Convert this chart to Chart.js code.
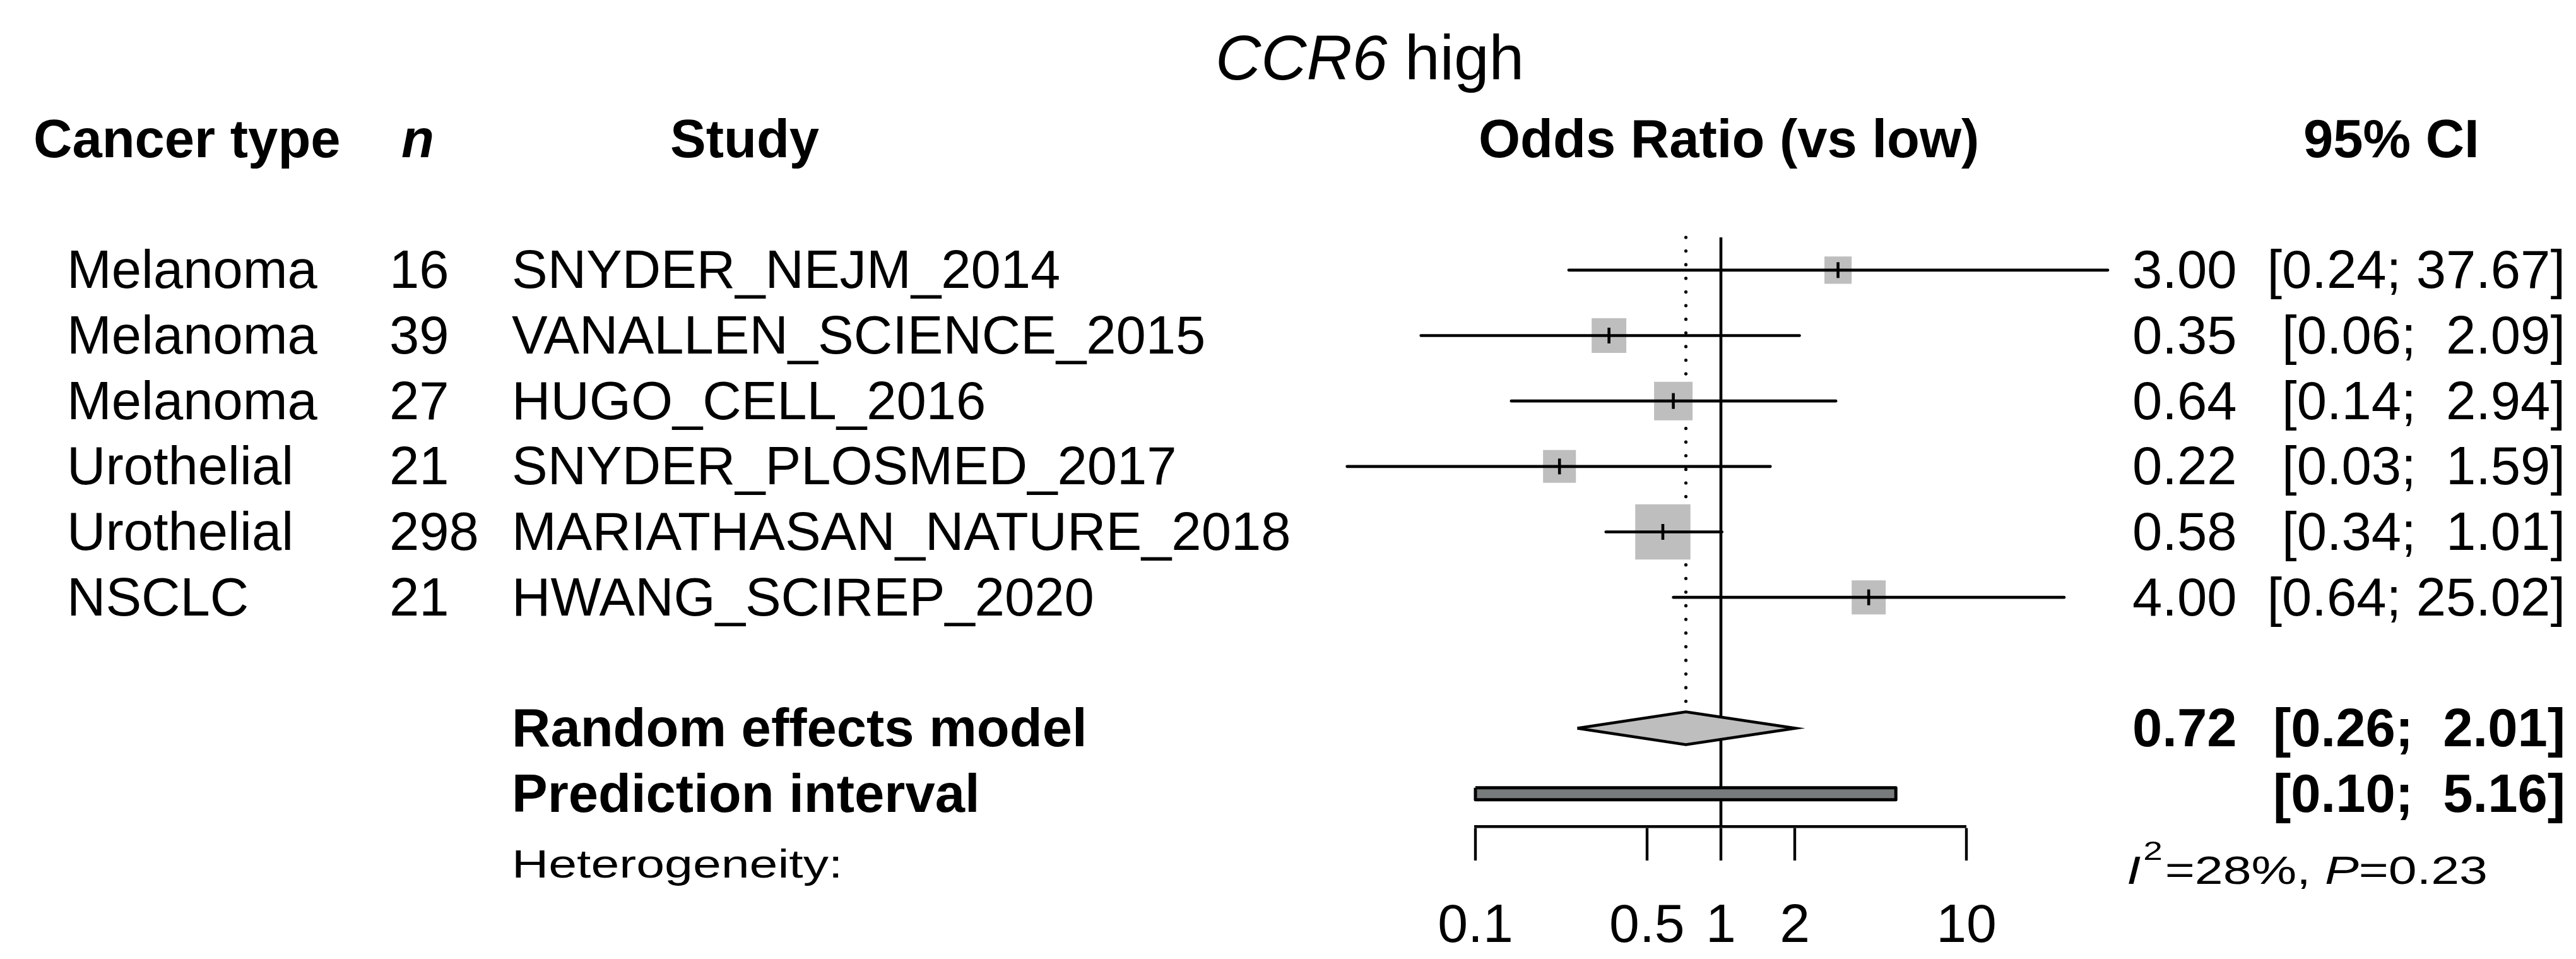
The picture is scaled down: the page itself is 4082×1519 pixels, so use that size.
<!DOCTYPE html>
<html>
<head>
<meta charset="utf-8">
<title>CCR6 high – forest plot</title>
<script src="https://cdn.jsdelivr.net/npm/chart.js@4.4.1/dist/chart.umd.min.js"></script>
<style>
  html, body { margin: 0; padding: 0; background: #ffffff; }
  #wrap { width: 4082px; height: 1519px; position: relative; }
  canvas { display: block; }
</style>
</head>
<body>
<div id="wrap"><canvas id="forest" width="4082" height="1519"></canvas></div>
<script>
// ---- study data ----
const cancerTypes = ['Melanoma', 'Melanoma', 'Melanoma', 'Urothelial', 'Urothelial', 'NSCLC'];
const sampleSizes = [16, 39, 27, 21, 298, 21];
const studies = ['SNYDER_NEJM_2014', 'VANALLEN_SCIENCE_2015', 'HUGO_CELL_2016',
                 'SNYDER_PLOSMED_2017', 'MARIATHASAN_NATURE_2018', 'HWANG_SCIREP_2020'];
const oddsRatios = [3.00, 0.35, 0.64, 0.22, 0.58, 4.00];
const ciLower = [0.24, 0.06, 0.14, 0.03, 0.34, 0.64];
const ciUpper = [37.67, 2.09, 2.94, 1.59, 1.01, 25.02];
// random-effects weights (%), drive the box areas
const weights = [8.5, 13.8, 17.0, 12.4, 35.0, 13.3];

// ---- pooled results ----
const pooledOR = 0.72;
const pooledCI = [0.26, 2.01];
const predictionInterval = [0.10, 5.16];
const i2Percent = 28;
const heterogeneityP = 0.23;

// ---- axis ----
const tickValues = [0.1, 0.5, 1, 2, 10];
const tickLabels = ['0.1', '0.5', '1', '2', '10'];

// ---- labels ----
const titleGene = 'CCR6';
const titleSuffix = 'high';
const headers = ['Cancer type', 'n', 'Study', 'Odds Ratio (vs low)', '95% CI'];
const summaryLabels = ['Random effects model', 'Prediction interval', 'Heterogeneity:'];

// ---- drawing ----
const FONT = '"Liberation Sans", Arial, Helvetica, sans-serif';
Chart.defaults.font.family = FONT;
Chart.defaults.color = '#000';

const pooledRow = studies.length + 1;
const predRow = pooledRow + 1;
const hetRow = predRow + 1;

const ROW_PX = 103.67;
const DIAMOND_HALF = 26 / ROW_PX;
const PRED_HALF = 9.5 / ROW_PX;
const BOX_SCALE = 14.79; // px of box side per sqrt(weight)
const LINE_W = 4.6;

const fmt = v => v.toFixed(2);
const lowerWidth = Math.max(...ciLower.map(v => fmt(v).length), fmt(pooledCI[0]).length, fmt(predictionInterval[0]).length);
const upperWidth = Math.max(...ciUpper.map(v => fmt(v).length), fmt(pooledCI[1]).length, fmt(predictionInterval[1]).length);
const ciText = (lo, hi) => '[' + fmt(lo).padStart(lowerWidth, ' ') + '; ' + fmt(hi).padStart(upperWidth, ' ') + ']';

const datasets = [];

// vertical line of no effect
datasets.push({
  data: [{ x: 1, y: -0.5 }, { x: 1, y: predRow + 0.5 }],
  borderColor: '#000', borderWidth: LINE_W, pointRadius: 0, order: 40
});

// dotted line at the pooled estimate
datasets.push({
  data: [{ x: pooledOR, y: -0.5 }, { x: pooledOR, y: pooledRow - DIAMOND_HALF }],
  borderColor: '#000', borderWidth: 5.2, borderDash: [0.01, 21.6], borderCapStyle: 'round',
  pointRadius: 0, order: 35
});

// weighted boxes
datasets.push({
  data: oddsRatios.map((v, i) => ({ x: v, y: i })),
  showLine: false, pointStyle: 'rect',
  pointRadius: weights.map(w => BOX_SCALE * Math.sqrt(w) / Math.SQRT2),
  pointBackgroundColor: '#bebebe', pointBorderWidth: 0, order: 30
});

// confidence interval whiskers
ciLower.forEach((lo, i) => {
  datasets.push({
    data: [{ x: lo, y: i }, { x: ciUpper[i], y: i }],
    borderColor: '#000', borderWidth: LINE_W, borderCapStyle: 'round',
    pointRadius: 0, order: 20
  });
});

// point estimate marks
datasets.push({
  data: oddsRatios.map((v, i) => ({ x: v, y: i })),
  showLine: false, pointStyle: 'line', pointRotation: 90, pointRadius: 12.5,
  pointBorderColor: '#000', pointBorderWidth: 4.6, order: 10
});

// pooled diamond
datasets.push({
  data: [
    { x: pooledCI[0], y: pooledRow },
    { x: pooledOR, y: pooledRow - DIAMOND_HALF },
    { x: pooledCI[1], y: pooledRow },
    { x: pooledOR, y: pooledRow + DIAMOND_HALF },
    { x: pooledCI[0], y: pooledRow }
  ],
  fill: 'shape', backgroundColor: '#bebebe', borderColor: '#000', borderWidth: 4.6,
  borderJoinStyle: 'miter', pointRadius: 0, order: 5
});

// prediction interval bar
datasets.push({
  data: [
    { x: predictionInterval[0], y: predRow - PRED_HALF },
    { x: predictionInterval[1], y: predRow - PRED_HALF },
    { x: predictionInterval[1], y: predRow + PRED_HALF },
    { x: predictionInterval[0], y: predRow + PRED_HALF },
    { x: predictionInterval[0], y: predRow - PRED_HALF }
  ],
  fill: 'shape', backgroundColor: '#777b7b', borderColor: '#000', borderWidth: 5,
  borderJoinStyle: 'round', pointRadius: 0, order: 5
});

datasets.forEach(d => { d.clip = false; d.tension = 0; });

// column text, titles and heterogeneity statistics
const textLayer = {
  id: 'forestText',
  afterDraw(chart) {
    const ctx = chart.ctx;
    const ys = chart.scales.y;
    const base = r => ys.getPixelForValue(r) + 28.5;
    const font = (size, weight = 'normal', style = 'normal') => `${style} ${weight} ${size}px ${FONT}`;
    const COL = { type: 106, n: 617, study: 811, est: 3379, ciRight: 4065 };
    const SIZE = 85;

    ctx.save();
    ctx.fillStyle = '#000';
    ctx.textBaseline = 'alphabetic';
    ctx.textAlign = 'left';

    // title
    ctx.font = font(100, 'normal', 'italic');
    ctx.fillText(titleGene, 1926, 126);
    const gw = ctx.measureText(titleGene).width;
    ctx.font = font(100);
    ctx.fillText(' ' + titleSuffix, 1926 + gw, 126);

    // column headers
    const hy = 249;
    ctx.font = font(SIZE, 'bold');
    ctx.fillText(headers[0], 53, hy);
    ctx.font = font(SIZE, 'bold', 'italic');
    ctx.fillText(headers[1], 636, hy);
    ctx.font = font(SIZE, 'bold');
    ctx.fillText(headers[2], 1062, hy);
    ctx.fillText(headers[3], 2343, hy);
    ctx.fillText(headers[4], 3650, hy);

    // study rows
    ctx.font = font(SIZE);
    studies.forEach((s, i) => {
      const y = base(i);
      ctx.textAlign = 'left';
      ctx.fillText(cancerTypes[i], COL.type, y);
      ctx.fillText(String(sampleSizes[i]), COL.n, y);
      ctx.fillText(s, COL.study, y);
      ctx.fillText(fmt(oddsRatios[i]), COL.est, y);
      ctx.textAlign = 'right';
      ctx.fillText(ciText(ciLower[i], ciUpper[i]), COL.ciRight, y);
    });

    // pooled rows
    ctx.font = font(SIZE, 'bold');
    ctx.textAlign = 'left';
    ctx.fillText(summaryLabels[0], COL.study, base(pooledRow));
    ctx.fillText(summaryLabels[1], COL.study, base(predRow));
    ctx.fillText(fmt(pooledOR), COL.est, base(pooledRow));
    ctx.textAlign = 'right';
    ctx.fillText(ciText(pooledCI[0], pooledCI[1]), COL.ciRight, base(pooledRow));
    ctx.fillText(ciText(predictionInterval[0], predictionInterval[1]), COL.ciRight, base(predRow));

    // heterogeneity (wide, smaller type)
    const HS = 63, STRETCH = 1.28;
    ctx.textAlign = 'left';
    ctx.save();
    ctx.translate(COL.study, base(hetRow) + 0.5);
    ctx.scale(STRETCH, 1);
    ctx.font = font(HS);
    ctx.fillText(summaryLabels[2], 0, 0);
    ctx.restore();

    const parts = [
      { t: 'I', f: font(HS, 'normal', 'italic'), dy: 0, gap: 0 },
      { t: '2', f: font(43), dy: -38, gap: 3 },
      { t: '=' + i2Percent + '%, ', f: font(HS), dy: 0, gap: 3 },
      { t: 'P', f: font(HS, 'normal', 'italic'), dy: 0, gap: 0 },
      { t: '=' + fmt(heterogeneityP), f: font(HS), dy: 0, gap: 0 }
    ];
    ctx.save();
    ctx.translate(3370, base(hetRow) + 10.5);
    ctx.scale(STRETCH, 1);
    let cx = 0;
    parts.forEach(p => {
      ctx.font = p.f;
      cx += p.gap;
      ctx.fillText(p.t, cx, p.dy);
      cx += ctx.measureText(p.t).width;
    });
    ctx.restore();

    ctx.restore();
  }
};

new Chart(document.getElementById('forest'), {
  type: 'line',
  data: { datasets },
  options: {
    responsive: false,
    animation: false,
    events: [],
    layout: { padding: { left: 2338, right: 966, top: 376, bottom: 10 } },
    plugins: { legend: { display: false }, tooltip: { enabled: false }, title: { display: false } },
    scales: {
      x: {
        type: 'logarithmic',
        position: 'bottom',
        min: tickValues[0],
        max: tickValues[tickValues.length - 1],
        afterBuildTicks: s => { s.ticks = tickValues.map(v => ({ value: v })); },
        afterFit: s => { s.height = 200; },
        ticks: {
          callback: (v, i) => tickLabels[i],
          autoSkip: false, maxRotation: 0, minRotation: 0,
          padding: 54, font: { size: 86 }, color: '#000'
        },
        grid: {
          display: true, drawOnChartArea: false, drawTicks: true,
          tickLength: 54, tickWidth: 4.4, tickColor: '#000', lineWidth: 0
        },
        border: { display: true, color: '#000', width: 4.6 }
      },
      y: {
        type: 'linear',
        min: -0.5,
        max: predRow + 0.5,
        reverse: true,
        display: false
      }
    }
  },
  plugins: [textLayer]
});
</script>
</body>
</html>
